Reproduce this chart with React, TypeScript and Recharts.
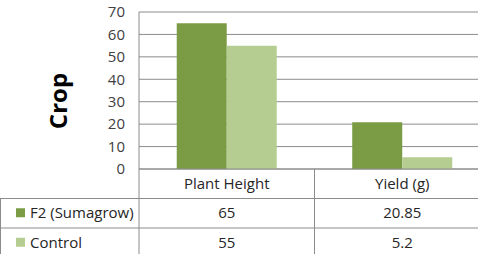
import { BarChart, Bar, XAxis, YAxis, CartesianGrid, Customized } from 'recharts'

const categories = ['Plant Height', 'Yield (g)']
const f2Values = [65, 20.85]
const controlValues = [55, 5.2]
const yTicks = [0, 10, 20, 30, 40, 50, 60, 70]

const seriesList = [
    { key: 'f2', label: 'F2 (Sumagrow)', color: '#7b9c44', values: f2Values },
    { key: 'control', label: 'Control', color: '#b6cd91', values: controlValues },
]

const data = categories.map((name, i) => ({
    name,
    f2: f2Values[i],
    control: controlValues[i],
}))

const FONT = '"Open Sans", sans-serif'
const W = 490
const H = 262
const PLOT_LEFT = 139
const PLOT_TOP = 12
const AXIS_H = 93
const PLOT_BOTTOM = H - AXIS_H
const ROW_H = 29.5
const LINE = '#8c8c8c'
const TEXT = '#262626'

function TableTick(props: any) {
    const { x, y, payload, index } = props
    return (
        <g>
            <text x={x} y={y + ROW_H / 2 + 1} textAnchor="middle" dominantBaseline="middle"
                fontSize={15} fontFamily={FONT} fill={TEXT}>
                {payload.value}
            </text>
            {seriesList.map((s, i) => (
                <text key={s.key} x={x} y={y + ROW_H * (i + 1) + ROW_H / 2 + 1} textAnchor="middle"
                    dominantBaseline="middle" fontSize={15} fontFamily={FONT} fill={TEXT}>
                    {String(s.values[index])}
                </text>
            ))}
        </g>
    )
}

function TableGrid() {
    const catW = (W - PLOT_LEFT) / categories.length
    return (
        <g>
            <line x1={PLOT_LEFT} x2={PLOT_LEFT} y1={PLOT_TOP} y2={H} stroke={LINE} />
            {categories.slice(1).map((c, i) => (
                <line key={c} x1={PLOT_LEFT + catW * (i + 1)} x2={PLOT_LEFT + catW * (i + 1)}
                    y1={PLOT_BOTTOM} y2={H} stroke={LINE} />
            ))}
            <line x1={0.5} x2={0.5} y1={PLOT_BOTTOM + ROW_H} y2={H} stroke={LINE} />
            {seriesList.map((s, i) => {
                const top = PLOT_BOTTOM + ROW_H * (i + 1)
                return (
                    <g key={s.key}>
                        <line x1={0} x2={W} y1={top} y2={top} stroke={LINE} />
                        <rect x={16} y={top + ROW_H / 2 - 5} width={9} height={9} fill={s.color} />
                        <text x={30} y={top + ROW_H / 2 + 1} dominantBaseline="middle"
                            fontSize={15} fontFamily={FONT} fill={TEXT}>
                            {s.label}
                        </text>
                    </g>
                )
            })}
            <text transform={`translate(67, 101) rotate(-90)`} textAnchor="middle"
                fontSize={24} fontWeight="bold" fontFamily={FONT} fill="#000">
                Crop
            </text>
        </g>
    )
}

export default function App() {
    return (
        <div style={{ position: 'absolute', left: 0, top: 0, width: 478, height: 254, overflow: 'hidden', background: '#fff' }}>
            <BarChart
                width={W}
                height={H}
                data={data}
                margin={{ top: PLOT_TOP, right: 0, left: 0, bottom: 0 }}
                barCategoryGap="21.5%"
                barGap={0}
            >
                <CartesianGrid vertical={false} stroke={LINE} />
                <YAxis
                    width={PLOT_LEFT}
                    domain={[0, 70]}
                    ticks={yTicks}
                    interval={0}
                    axisLine={false}
                    tickLine={false}
                    tickSize={6}
                    tickMargin={8}
                    tick={{ fontSize: 15, fontFamily: FONT, fill: '#404040' }}
                />
                <XAxis
                    dataKey="name"
                    height={AXIS_H}
                    axisLine={{ stroke: LINE }}
                    tickLine={false}
                    tickSize={0}
                    tickMargin={0}
                    interval={0}
                    tick={<TableTick />}
                />
                {seriesList.map((s) => (
                    <Bar key={s.key} dataKey={s.key} name={s.label} fill={s.color} isAnimationActive={false} />
                ))}
                <Customized component={<TableGrid />} />
            </BarChart>
        </div>
    )
}
